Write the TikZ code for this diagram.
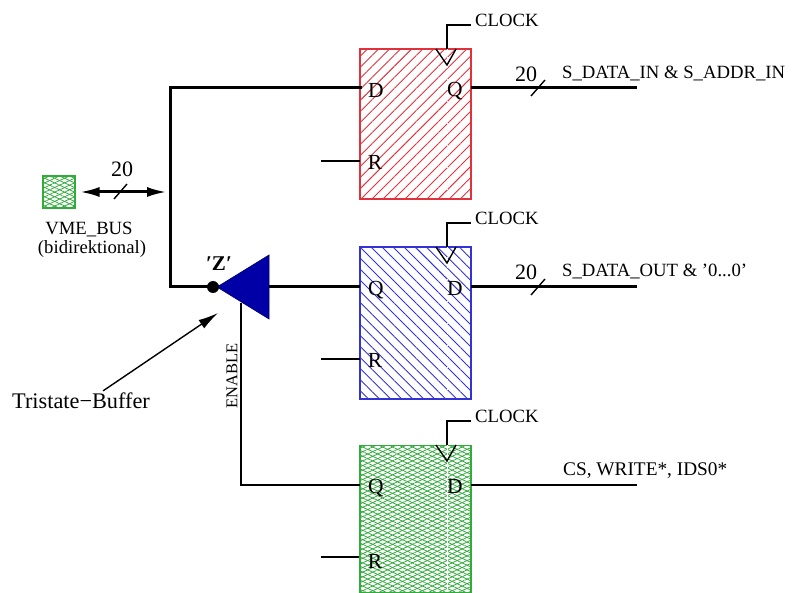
\documentclass[tikz,border=0pt]{standalone}
\usepackage{fontspec}
\setmainfont{Liberation Serif}
\usetikzlibrary{arrows.meta,patterns.meta}

\definecolor{regred}{RGB}{225,50,60}
\definecolor{regblue}{RGB}{50,50,215}
\definecolor{reggreen}{RGB}{50,170,60}

\tikzset{
  ffbox/.style={draw=#1, line width=1.1pt, minimum width=111pt, inner sep=0pt},
  thin wire/.style={line width=1.4pt},
  bus wire/.style={line width=3pt},
  pin/.style={font=\fontsize{21.5}{21.5}\selectfont, inner sep=0pt},
  lbl/.style={font=\fontsize{18.7}{18.7}\selectfont, inner sep=0pt},
  num/.style={font=\fontsize{22}{22}\selectfont, inner sep=0pt},
  redhatch/.style={pattern={Lines[angle=45,distance=7.8pt,line width=0.9pt]}, pattern color=regred},
  bluehatch/.style={pattern={Lines[angle=-45,distance=7.8pt,line width=0.9pt]}, pattern color=regblue},
  greenmesh/.style={postaction={pattern={Lines[angle=25,distance=4.2pt,line width=0.8pt]}, pattern color=reggreen},
                    postaction={pattern={Lines[angle=-25,distance=4.2pt,line width=0.8pt]}, pattern color=reggreen}},
}

\begin{document}
\begin{tikzpicture}[x=1pt, y=-1pt]
  \useasboundingbox (0,0) rectangle (800,593);

  % registers
  \node[ffbox=regred, redhatch, minimum height=150pt] (RegA) at (415.5,124) {};
  \node[ffbox=regblue, bluehatch, minimum height=152pt] (RegB) at (415.5,323) {};
  \node[ffbox=reggreen, greenmesh, minimum height=147pt] (RegC) at (415.5,519) {};

  % seams in the fill
  \coordinate (SeamA) at (447,49);
  \coordinate (SeamB) at (447,247);
  \coordinate (SeamC) at (447,445);
  \coordinate (SeamAe) at (447,199);
  \coordinate (SeamBe) at (447,399);
  \coordinate (SeamCe) at (447,592);
  \draw[white, densely dotted, line width=1pt] (SeamA) -- (SeamAe);
  \draw[white, densely dotted, line width=1pt] (SeamB) -- (SeamBe);
  \draw[white, line width=1pt] (SeamC) -- (SeamCe);

  % pins
  \coordinate (DA) at (360,88);
  \coordinate (QA) at (471,88);
  \coordinate (QB) at (360,287);
  \coordinate (DB) at (471,287);
  \coordinate (QC) at (360,485);
  \coordinate (DC) at (471,485);
  \node[pin] (TextDA) at (376,90) {D};
  \node[pin] (TextQA) at (455,91) {Q};
  \node[pin] (TextRA) at (375,162) {R};
  \node[pin] (TextQB) at (376,290) {Q};
  \node[pin] (TextDB) at (455,288) {D};
  \node[pin] (TextRB) at (375,360) {R};
  \node[pin] (TextQC) at (376,488) {Q};
  \node[pin] (TextDC) at (455,486) {D};
  \node[pin] (TextRC) at (375,561) {R};

  % reset stubs
  \coordinate (RA) at (321,161);
  \coordinate (RB) at (321,359);
  \coordinate (RC) at (321,557);
  \draw[thin wire] (RA) -- (RA -| RegA.west);
  \draw[thin wire] (RB) -- (RB -| RegB.west);
  \draw[thin wire] (RC) -- (RC -| RegC.west);

  % clocks
  \coordinate (ClkA) at (471,25);
  \coordinate (ClkB) at (471,223);
  \coordinate (ClkC) at (471,421);
  \node[lbl, anchor=west] (TextClkA) at (475,20) {CLOCK};
  \node[lbl, anchor=west] (TextClkB) at (475,218) {CLOCK};
  \node[lbl, anchor=west] (TextClkC) at (475,416) {CLOCK};
  \draw[thin wire] (ClkA) -- (447,25) -- (SeamA);
  \draw[thin wire] (ClkB) -- (447,223) -- (SeamB);
  \draw[thin wire] (ClkC) -- (447,421) -- (SeamC);
  \draw[thin wire] (436,49) -- (447,65) -- (456,49);
  \draw[thin wire] (436,247) -- (447,263) -- (456,247);
  \draw[thin wire] (436,445) -- (447,461) -- (456,445);

  % buffer
  \coordinate (BufTip) at (217,287);
  \coordinate (BufIn) at (269,287);
  \coordinate (BusTop) at (170,88);
  \coordinate (BusLow) at (170,287);
  \coordinate (BusMid) at (167,192);
  \draw[bus wire, line cap=rect] (DA) -- (BusTop) -- (BusLow) -- (BufTip);
  \draw[bus wire] (BufIn) -- (QB);
  \fill[blue!65!black, draw=black!60!blue, line width=0.6pt] (BufTip) -- (269,255) -- (269,319) -- cycle;
  \node[circle, fill=black, inner sep=0pt, minimum size=12pt] (Dot) at (213,287) {};
  \node[font=\fontsize{21}{21}\selectfont\bfseries, inner sep=0pt] (TextZ) at (219,264) {′Z′};

  % enable
  \coordinate (EnTop) at (241,303);
  \coordinate (EnLow) at (241,485);
  \draw[thin wire] (EnTop) -- (EnLow) -- (QC);
  \node[font=\fontsize{16.5}{16.5}\selectfont, rotate=90, inner sep=0pt] (TextEnable) at (232,376) {ENABLE};

  % outputs
  \coordinate (OutA) at (637,88);
  \coordinate (OutB) at (637,287);
  \coordinate (OutC) at (637,485);
  \draw[bus wire] (QA) -- (OutA);
  \draw[bus wire] (DB) -- (OutB);
  \draw[thin wire] (DC) -- (OutC);
  \draw[thin wire] (531,96) -- (545,80);
  \draw[thin wire] (531,295) -- (545,279);
  \node[num] (TextWidthA) at (526,74) {20};
  \node[num] (TextWidthB) at (526,272) {20};
  \node[lbl, anchor=west] (TextOutA) at (562,73) {S\_DATA\_IN \& S\_ADDR\_IN};
  \node[lbl, anchor=west] (TextOutB) at (562,271) {S\_DATA\_OUT \& '0...0'};
  \node[font=\fontsize{19.3}{19.3}\selectfont, anchor=west, inner sep=0pt] (TextOutC) at (563,471) {CS, WRITE*, IDS0*};

  % vme port
  \node[draw=reggreen, greenmesh, line width=1.1pt, minimum size=32pt, inner sep=0pt] (Port) at (59,192) {};
  \draw[bus wire, {Latex[length=20pt,width=10pt]}-{Latex[length=20pt,width=10pt]}] (Port.east) ++(4,0) -- (BusMid);
  \draw[thin wire] (114,199) -- (127,184);
  \node[num] (TextWidthPort) at (122,169) {20};
  \node[lbl] (TextPort) at (89,230) {VME\_BUS};
  \node[lbl] (TextDir) at (92,249) {(bidirektional)};

  % tristate label
  \node[font=\fontsize{22.3}{22.3}\selectfont, anchor=west, inner sep=0pt] (TextBuf) at (12,401) {Tristate{\textminus}Buffer};
  \coordinate (BufArrow) at (218,313);
  \draw[thin wire, -{Latex[length=20pt,width=10pt]}] (TextBuf.north east) ++(-47,-2) -- (BufArrow);
\end{tikzpicture}
\end{document}
